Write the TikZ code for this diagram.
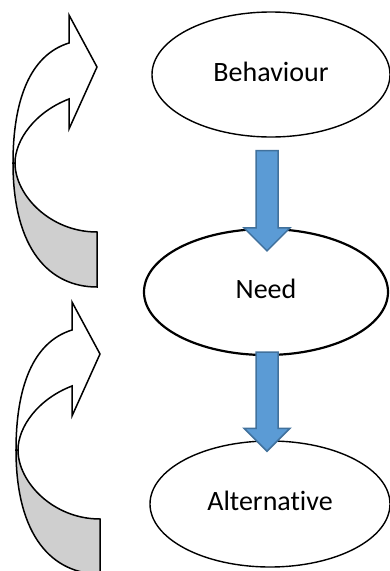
\documentclass[tikz,border=0pt]{standalone}
\usepackage{fontspec}
\setmainfont{Carlito}[Ligatures=NoCommon]
\usetikzlibrary{shapes.geometric,calc}

\definecolor{arrowblue}{HTML}{5B9BD5}
\definecolor{arrowedge}{HTML}{41719C}

\tikzset{
  bubble/.style={draw, ellipse, line width=1.4pt, fill=white, inner sep=0pt,
    text height=18pt, text depth=5pt, font=\fontsize{28}{32}\selectfont},
  blockarrow/.style={fill=arrowblue, draw=arrowedge, line width=1.5pt, line join=miter},
  band/.style={draw, line width=1.5pt, line join=miter},
  pics/curvedarrow/.style={code={
    % back of the band
    \draw[band, fill=black!19] (13,163) .. controls (13,250) and (50,287) .. (97,287) -- (97,232) .. controls (50,232) and (15,195) .. (15,163) -- cycle;
    % front of the band with the head
    \draw[band, fill=white] (13,163) .. controls (13,100) and (30,55) .. (69,43) -- (69,15) -- (97,67) -- (69,129) -- (69,99) .. controls (35,112) and (15,140) .. (15,163) -- cycle;
  }}
}

\begin{document}
\begin{tikzpicture}[x=1pt,y=-1pt]
    \useasboundingbox (0,0) rectangle (390,571);

    % left: the two curved arrows
    \pic at (0,0) {curvedarrow};
    \pic at (3,287) {curvedarrow};

    % right: the three stages
    \node[bubble, minimum width=238pt, minimum height=125pt] (beh) at (271,74.5) {Behaviour};
    \node[bubble, line width=2.2pt, minimum width=244pt, minimum height=126pt] (need) at (266,292) {Need};
    \node[bubble, minimum width=240pt, minimum height=126pt] (alt) at (270,504) {Alternative};

    % block arrows between the stages
    \coordinate (top1) at ($(beh.south)+(-4,13)$);
    \coordinate (tip1) at ($(need.north -| top1)+(0,23)$);
    \coordinate (top2) at ($(need.south -| top1)+(0,-4)$);
    \coordinate (tip2) at ($(alt.north -| top1)+(0,11)$);

    \foreach \a/\b in {top1/tip1, top2/tip2}
        \draw[blockarrow] ($(\a)+(-11,0)$) -- ($(\a)+(11,0)$) -- ($(\b)+(11,-23)$) -- ($(\b)+(23,-23)$) -- (\b) -- ($(\b)+(-23,-23)$) -- ($(\b)+(-11,-23)$) -- cycle;

\end{tikzpicture}
\end{document}
